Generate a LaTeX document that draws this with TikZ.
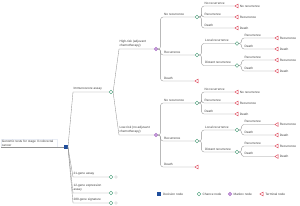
\documentclass[tikz,border=0pt]{standalone}
\usepackage{fontspec}
\setsansfont{Liberation Sans}
\usetikzlibrary{shapes.geometric}
\definecolor{decblue}{RGB}{31,78,156}
\definecolor{chgreen}{RGB}{60,150,110}
\definecolor{mkpurple}{RGB}{165,100,195}
\definecolor{termred}{RGB}{220,60,80}
\begin{document}
\begin{tikzpicture}[x=1mm, y=-1mm, line width=1pt,
    txt/.style={font=\sffamily\fontsize{9}{11}\selectfont, text=black!75, inner sep=0.4mm},
    lbl/.style={txt, anchor=south west, align=left},
    link/.style={draw=gray!85, rounded corners=2.5mm},
    decnode/.style={rectangle, fill=decblue, minimum size=3.6mm, inner sep=0},
    chnode/.style={circle, draw=chgreen, fill=white, minimum size=3.8mm, inner sep=0},
    mknode/.style={circle, draw=mkpurple, fill=mkpurple!25, minimum size=3.8mm, inner sep=0,
      path picture={\draw[mkpurple, line width=0.8pt] (path picture bounding box.center) +(-1mm,-1mm) -- +(1mm,1mm) +(-1mm,1mm) -- +(1mm,-1mm);}},
    termnode/.style={isosceles triangle, isosceles triangle apex angle=60, shape border rotate=180,
      draw=termred, fill=white, minimum size=3.4mm, inner sep=0},
    dummynode/.style={circle, draw=gray!40, minimum size=2.8mm, inner sep=0}]
  \useasboundingbox (0,0) rectangle (300,206);

  % root and decision
  \node[txt, draw=decblue!10, line width=0.6pt, text width=54mm, align=left, anchor=south west, inner sep=0.8mm] (root) at (1,147)
    {Genomic tests for stage II colorectal\\cancer};
  \node[decnode] (dec) at (66,147) {};
  \draw[link] (root.south west) -- (dec.west);

  % tests
  \coordinate (k1) at (73,0);
  \coordinate (k2) at (119,0);
  \node[chnode] (imm) at (111,92) {};
  \node[chnode] (g21) at (111,177) {};
  \node[chnode] (g12) at (111,193) {};
  \node[chnode] (g280) at (111,203) {};
  \foreach \n in {g21,g12,g280}
    \node[dummynode] (\n-d) at ([xshift=5mm]\n.center) {};
  \foreach \n in {imm,g21,g12,g280}
    \draw[link, rounded corners=0pt] (dec.east) -- (k1 |- \n) -- (\n.west);
  \node[lbl] (l-imm) at (73,91) {Immunoscore assay};
  \node[lbl] (l-g21) at (73,176) {21-gene assay};
  \node[lbl] (l-g12) at (73,192) {12-gene expression\\assay};
  \node[lbl] (l-g280) at (73,202) {280-gene signature};

  % risk groups
  \node[mknode] (mhi) at (156,49) {};
  \node[mknode] (mlo) at (156,135) {};
  \foreach \n in {mhi,mlo}
    \draw[link, rounded corners=0pt] (imm.east) -- (k2 |- \n) -- (\n.west);
  \node[lbl] (l-mhi) at (119,48) {High-risk (adjuvant\\chemotherapy)};
  \node[lbl] (l-mlo) at (119,134) {Low-risk (no adjuvant\\chemotherapy)};

  % markov states
  \node[chnode] (a1) at (197,17) {};
  \node[chnode] (a2) at (197,55) {};
  \node[termnode] (a3) at (197,81) {};
  \node[chnode] (b1) at (197,103) {};
  \node[chnode] (b2) at (197,141) {};
  \node[termnode] (b3) at (197,167) {};
  \node[chnode] (al) at (237,43.5) {};
  \node[chnode] (ad) at (237,65.5) {};
  \node[chnode] (bl) at (237,130) {};
  \node[chnode] (bd) at (237,152) {};
  \foreach \p/\n/\t in {mhi/a1/No recurrence, mhi/a2/Recurrence, mhi/a3/Death,
      mlo/b1/No recurrence, mlo/b2/Recurrence, mlo/b3/Death,
      a2/al/Local recurrence, a2/ad/Distant recurrence,
      b2/bl/Local recurrence, b2/bd/Distant recurrence}{
    \draw[link] (\p.east) -- ++(2.5,0) |- (\n.west);
    \node[lbl] (l-\n) at ([xshift=5.5mm, yshift=1mm]\p.east |- \n.west) {\t};
  }

  % terminal outcomes
  \foreach \p/\n/\x/\y/\t in {a1/a11/237/6/No recurrence, a1/a12/237/17/Recurrence, a1/a13/237/28/Death,
      al/al1/277/38/Recurrence, al/al2/277/49/Death, ad/ad1/277/60/Recurrence, ad/ad2/277/71/Death,
      b1/b11/237/92/No recurrence, b1/b12/237/103/Recurrence, b1/b13/237/114/Death,
      bl/bl1/277/124.5/Recurrence, bl/bl2/277/135/Death, bd/bd1/277/146/Recurrence, bd/bd2/277/156.5/Death}{
    \node[termnode] (\n) at (\x,\y) {};
    \draw[link] (\p.east) -- ++(2.5,0) |- (\n.west);
    \node[lbl] (l-\n) at (\x-33,\y-1) {\t};
    \node[txt, anchor=west] (\n-t) at ([xshift=1mm]\n.east) {\t};
  }

  % legend
  \node[decnode] (k-dec) at (159,194) {};
  \node[txt, anchor=west] at ([xshift=1.5mm]k-dec.east) {Decision node};
  \node[chnode] (k-ch) at (199,194) {};
  \node[txt, anchor=west] at ([xshift=1mm]k-ch.east) {Chance node};
  \node[mknode] (k-mk) at (230,194) {};
  \node[txt, anchor=west] at ([xshift=1mm]k-mk.east) {Markov node};
  \node[termnode] (k-term) at (262,194) {};
  \node[txt, anchor=west] at ([xshift=1.5mm]k-term.east) {Terminal node};
\end{tikzpicture}
\end{document}
